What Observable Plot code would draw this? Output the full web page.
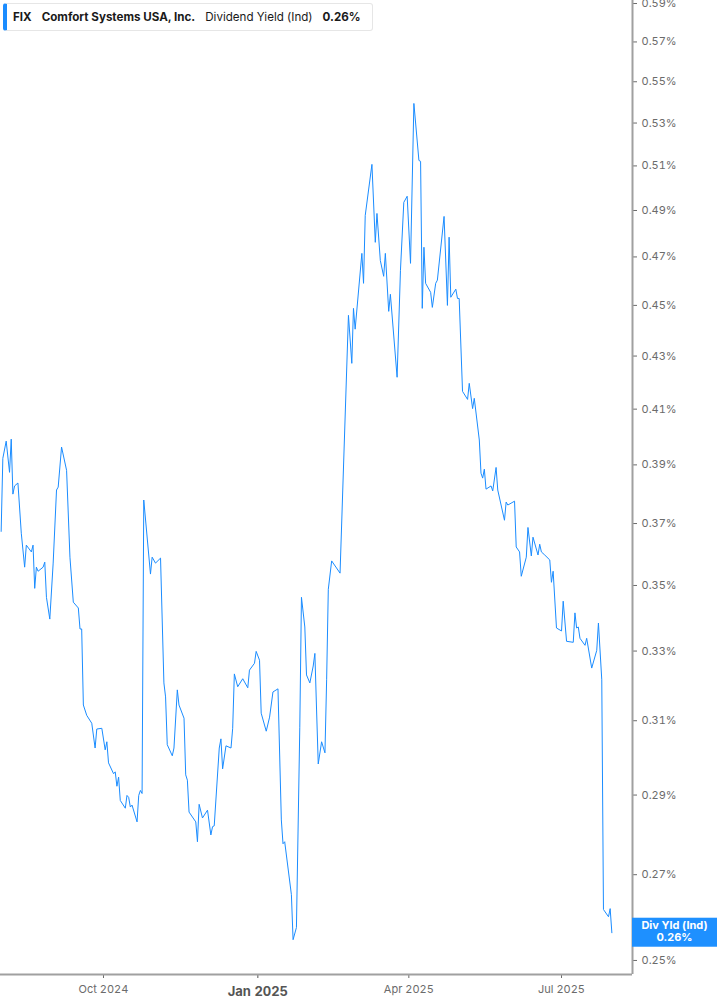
<!DOCTYPE html>
<html><head><meta charset="utf-8">
<script src="https://cdn.jsdelivr.net/npm/d3@7"></script>
<script src="https://cdn.jsdelivr.net/npm/@observablehq/plot@0.6"></script>
<style>
html,body{margin:0;padding:0;background:#fff;}
#wrap{position:relative;width:717px;height:1005px;font-family:Inter,"DejaVu Sans",sans-serif;}
#legend{position:absolute;left:3px;top:3px;height:26px;padding:0 11px 0 6px;display:flex;align-items:center;gap:10px;
  background:#fff;border:1px solid #e6e6e6;border-left:4px solid #1a8cff;border-radius:3px;font-size:11.6px;color:#1a1a1a;white-space:nowrap;}
#legend b{font-weight:700;}
#legend span{font-weight:400;}
</style></head>
<body><div id="wrap"><div id="legend"></div></div>
<script>
const ticker = "FIX";
const company = "Comfort Systems USA, Inc.";
const metric = "Dividend Yield (Ind)";
const metricShort = "Div Yld (Ind)";

const dates = [
"2024-08-01","2024-08-02","2024-08-04","2024-08-06","2024-08-07","2024-08-08","2024-08-09","2024-08-11","2024-08-13","2024-08-15","2024-08-16","2024-08-19","2024-08-20","2024-08-21","2024-08-22","2024-08-23","2024-08-26","2024-08-27","2024-08-28","2024-08-30",
"2024-09-01","2024-09-03","2024-09-04","2024-09-06","2024-09-09","2024-09-11","2024-09-13","2024-09-16","2024-09-17","2024-09-18","2024-09-19","2024-09-21","2024-09-24","2024-09-26","2024-09-27","2024-09-30",
"2024-10-02","2024-10-03","2024-10-04","2024-10-07","2024-10-08","2024-10-09","2024-10-10","2024-10-11","2024-10-14","2024-10-15","2024-10-16","2024-10-17","2024-10-18","2024-10-21","2024-10-22","2024-10-23","2024-10-24","2024-10-25","2024-10-29","2024-10-30",
"2024-11-01","2024-11-04","2024-11-06","2024-11-07","2024-11-08","2024-11-11","2024-11-12","2024-11-14","2024-11-15","2024-11-18","2024-11-19","2024-11-20","2024-11-21","2024-11-25","2024-11-26","2024-11-27","2024-11-29",
"2024-12-02","2024-12-04","2024-12-05","2024-12-06","2024-12-09","2024-12-10","2024-12-11","2024-12-13","2024-12-16","2024-12-17","2024-12-18","2024-12-20","2024-12-23","2024-12-26","2024-12-27","2024-12-30","2024-12-31",
"2025-01-02","2025-01-03","2025-01-06","2025-01-08","2025-01-10","2025-01-13","2025-01-15","2025-01-16","2025-01-17","2025-01-21","2025-01-22","2025-01-24","2025-01-26","2025-01-27","2025-01-29","2025-01-30",
"2025-02-01","2025-02-03","2025-02-04","2025-02-05","2025-02-06","2025-02-08","2025-02-10","2025-02-11","2025-02-12","2025-02-14","2025-02-19","2025-02-24","2025-02-26","2025-02-27","2025-02-28",
"2025-03-04","2025-03-05","2025-03-06","2025-03-10","2025-03-12","2025-03-13","2025-03-15","2025-03-17","2025-03-18","2025-03-20","2025-03-21","2025-03-25","2025-03-27","2025-03-29","2025-03-31",
"2025-04-02","2025-04-04","2025-04-07","2025-04-08","2025-04-09","2025-04-10","2025-04-11","2025-04-14","2025-04-15","2025-04-17","2025-04-18","2025-04-22","2025-04-24","2025-04-25","2025-04-26","2025-04-29","2025-04-30",
"2025-05-01","2025-05-03","2025-05-06","2025-05-07","2025-05-09","2025-05-10","2025-05-13","2025-05-14","2025-05-15","2025-05-16","2025-05-17","2025-05-20","2025-05-21","2025-05-23","2025-05-24","2025-05-28","2025-05-29","2025-05-30",
"2025-06-03","2025-06-04","2025-06-06","2025-06-07","2025-06-10","2025-06-11","2025-06-13","2025-06-14","2025-06-17","2025-06-18","2025-06-19","2025-06-21","2025-06-24","2025-06-25","2025-06-26","2025-06-28",
"2025-07-01","2025-07-02","2025-07-04","2025-07-08","2025-07-09","2025-07-10","2025-07-11","2025-07-12","2025-07-15","2025-07-16","2025-07-19","2025-07-22","2025-07-23","2025-07-25","2025-07-26","2025-07-29","2025-07-30","2025-07-31"
];

const yields = [
0.3674,0.3923,0.3984,0.3874,0.3991,0.3799,0.3827,0.3837,0.3668,0.3558,0.3629,0.3607,0.3629,0.3491,0.3558,0.3545,0.3558,0.3574,0.3463,0.3396,
0.3571,0.3813,0.3823,0.3963,0.3881,0.3590,0.3448,0.3430,0.3366,0.3366,0.3144,0.3115,0.3093,0.3025,0.3077,0.3079,
0.3020,0.3042,0.2985,0.2956,0.2961,0.2923,0.2947,0.2886,0.2866,0.2899,0.2894,0.2869,0.2874,0.2831,0.2899,0.2912,0.2904,0.3779,0.3536,0.3590,
0.3571,0.3587,0.3207,0.3167,0.3034,0.3004,0.3025,0.3187,0.3144,0.3107,0.2953,0.2939,0.2856,0.2831,0.2781,0.2876,0.2841,
0.2861,0.2798,0.2819,0.2821,0.3025,0.3050,0.2969,0.3031,0.3025,0.3079,0.3233,0.3196,0.3219,0.3193,0.3244,0.3264,0.3299,
0.3273,0.3121,0.3071,0.3110,0.3181,0.3190,0.2836,0.2776,0.2781,0.2652,0.2547,0.2575,0.3082,0.3463,0.3372,0.3230,
0.3207,0.3256,0.3293,0.3130,0.2982,0.3042,0.3012,0.3216,0.3488,0.3578,0.3539,0.4460,0.4272,0.4488,0.4405,
0.4715,0.4590,0.4878,0.5107,0.4762,0.4887,0.4685,0.4619,0.4715,0.4476,0.4545,0.4219,0.4644,0.4936,0.4963,
0.4673,0.5394,0.5125,0.5121,0.4488,0.4741,0.4590,0.4553,0.4492,0.4590,0.4603,0.4874,0.4500,0.4784,0.4533,0.4566,0.4528,
0.4528,0.4166,0.4136,0.4196,0.4102,0.4140,0.3988,0.3871,0.3854,0.3885,0.3816,0.3827,0.3810,0.3891,0.3813,0.3711,0.3772,0.3762,
0.3775,0.3623,0.3607,0.3529,0.3590,0.3687,0.3594,0.3655,0.3597,0.3632,0.3607,0.3597,0.3581,0.3510,0.3545,0.3369,
0.3360,0.3451,0.3329,0.3326,0.3415,0.3369,0.3372,0.3338,0.3317,0.3338,0.3250,0.3302,0.3384,0.3216,0.2617,0.2600,0.2619,0.2563
];

const yTicks = [0.25,0.27,0.29,0.31,0.33,0.35,0.37,0.39,0.41,0.43,0.45,0.47,0.49,0.51,0.53,0.55,0.57,0.59];
const xTickDates = ["2024-10-01","2025-01-01","2025-04-01","2025-07-01"];
const xTickLabels = ["Oct 2024","Jan 2025","Apr 2025","Jul 2025"];
const boldTick = "Jan 2025";

const lineColor = "#1a8cff";
const parse = s => new Date(s + "T00:00:00Z");
const data = dates.map((d, i) => ({date: parse(d), value: yields[i]}));
const last = data[data.length - 1];
const fmtY = v => v.toFixed(2) + "%";

const xDomain = [new Date("2024-07-31T14:38:00Z"), new Date("2025-08-12T07:26:00Z")];
const yDomain = [0.24687, 0.5916];
const xt = xTickDates.map(parse);
const labelOf = new Map(xt.map((d, i) => [+d, xTickLabels[i]]));
const xtNormal = xt.filter(d => labelOf.get(+d) !== boldTick);
const xtBold = xt.filter(d => labelOf.get(+d) === boldTick);

document.getElementById("legend").innerHTML =
  `<b>${ticker}</b><b>${company}</b><span>${metric}</span><b>${fmtY(last.value)}</b>`;

const plot = Plot.plot({
  width: 717,
  height: 1005,
  marginTop: 0,
  marginRight: 85,
  marginBottom: 31,
  marginLeft: 0,
  style: {fontFamily: "Inter, 'DejaVu Sans', sans-serif", background: "transparent", overflow: "visible"},
  x: {type: "utc", domain: xDomain},
  y: {type: "log", domain: yDomain},
  marks: [
    Plot.axisY(yTicks, {anchor: "right", tickFormat: fmtY, tickSize: 4, tickPadding: 5, fontSize: 11, color: "#6b6b6b", label: null}),
    Plot.axisX(xtNormal, {anchor: "bottom", tickFormat: d => labelOf.get(+d), tickSize: 4, tickPadding: 7, fontSize: 11, color: "#6b6b6b", label: null}),
    Plot.axisX(xtBold, {anchor: "bottom", tickFormat: d => labelOf.get(+d), tickSize: 4, tickPadding: 8, fontSize: 13, fontWeight: "bold", color: "#555", label: null}),
    Plot.ruleX([xDomain[1]], {stroke: "#a0a0a0", strokeWidth: 2}),
    Plot.ruleY([yDomain[0]], {stroke: "#a0a0a0", strokeWidth: 2}),
    Plot.line(data, {x: "date", y: "value", stroke: lineColor, strokeWidth: 1})
  ]
});

// end-value label box, positioned with the plot's own y scale
const ys = plot.scale("y").apply(last.value);
const svg = d3.select(plot);
const g = svg.append("g");
g.append("rect").attr("x", 632).attr("y", ys - 14.5).attr("width", 85).attr("height", 29).attr("fill", "#1e90ff");
g.append("text").attr("x", 674.5).attr("y", ys - 3).attr("text-anchor", "middle").attr("fill", "#fff")
  .attr("font-size", 11).attr("font-weight", "bold").text(metricShort);
g.append("text").attr("x", 674.5).attr("y", ys + 9).attr("text-anchor", "middle").attr("fill", "#fff")
  .attr("font-size", 11).attr("font-weight", "bold").text(fmtY(last.value));

document.getElementById("wrap").insertBefore(plot, document.getElementById("legend"));
</script>
</body></html>
